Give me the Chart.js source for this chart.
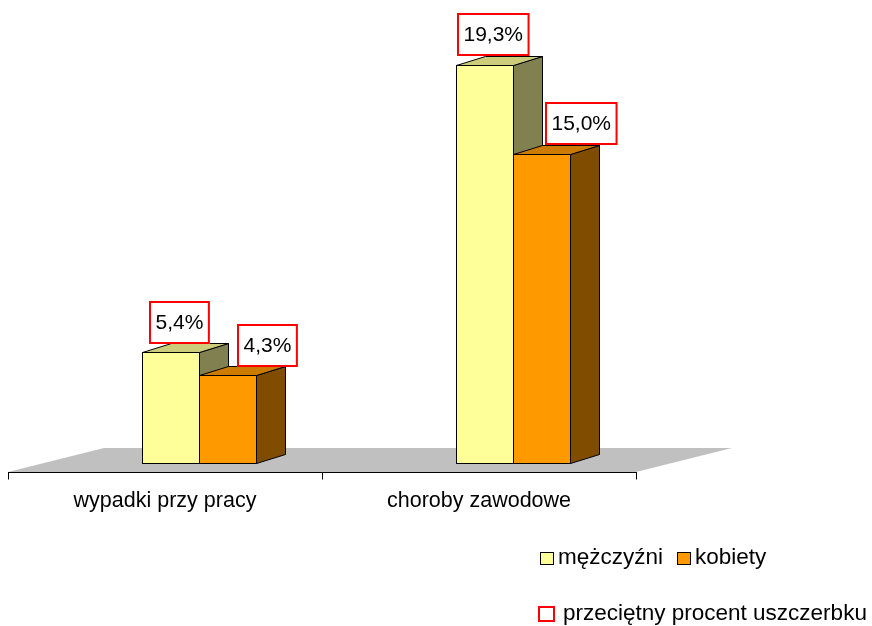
<!DOCTYPE html>
<html>
<head>
<meta charset="utf-8">
<script src="https://cdn.jsdelivr.net/npm/chart.js@4/dist/chart.umd.min.js"></script>
<style>
html,body{margin:0;padding:0;background:#fff;}
#wrap{width:872px;height:626px;position:relative;}
</style>
</head>
<body>
<div id="wrap"><canvas id="c" width="872" height="626"></canvas></div>
<script>
// ---- data ----
const categories = ['wypadki przy pracy', 'choroby zawodowe'];
const menValues = [5.4, 19.3];
const womenValues = [4.3, 15.0];
const seriesNames = ['mężczyźni', 'kobiety'];
const averageLabel = 'przeciętny procent uszczerbku';
const yMin = 0;
const yMax = 22;

// ---- styles ----
const FONT = '"Liberation Sans", Arial, sans-serif';
const frontColors = ['#FFFF99', '#FF9900'];
const sideColors = ['#808050', '#804C00'];
const topColors = ['#CCCC7A', '#CC7A00'];
const geo = { bx: 29, by: 9, fx: 96, fy: 24, ox: 34, oy: 8 };
const labelDx = [9, 39.5];
const labelGap = 8.5;

function fmt(v) { return v.toFixed(1).replace('.', ',') + '%'; }

const threeD = {
  id: 'threeD',
  beforeDatasetsDraw(chart) {
    const ctx = chart.ctx;
    const xs = chart.scales.x;
    const ca = chart.chartArea;
    const l = xs.getPixelForValue(-0.5) - geo.ox;
    const r = xs.getPixelForValue(categories.length - 0.5) - geo.ox;
    const fy = ca.bottom + geo.oy;
    ctx.save();
    ctx.fillStyle = '#C0C0C0';
    ctx.beginPath();
    ctx.moveTo(l, fy);
    ctx.lineTo(r, fy);
    ctx.lineTo(r + geo.fx, fy - geo.fy);
    ctx.lineTo(l + geo.fx, fy - geo.fy);
    ctx.closePath();
    ctx.fill();
    // axis line + ticks
    ctx.strokeStyle = '#000';
    ctx.lineWidth = 1;
    ctx.beginPath();
    const ay = Math.round(fy) + 0.5;
    ctx.moveTo(Math.round(l), ay);
    ctx.lineTo(Math.round(r) + 1, ay);
    for (let i = 0; i <= categories.length; i++) {
      const tx = Math.round(xs.getPixelForValue(i - 0.5) - geo.ox) + 0.5;
      ctx.moveTo(tx, ay);
      ctx.lineTo(tx, ay + 7);
    }
    ctx.stroke();
    ctx.restore();
  },
  afterDatasetsDraw(chart) {
    const ctx = chart.ctx;
    ctx.save();
    ctx.lineWidth = 1;
    ctx.strokeStyle = '#000';
    const n = categories.length;
    const boxes = [];
    for (let i = 0; i < n; i++) {
      for (let d = 0; d < chart.data.datasets.length; d++) {
        const el = chart.getDatasetMeta(d).data[i];
        const p = el.getProps(['x', 'y', 'base', 'width'], true);
        const L = Math.round(p.x - p.width / 2) + 0.5;
        const R = Math.round(p.x + p.width / 2) + 0.5;
        const T = Math.round(p.y) + 0.5;
        const B = Math.round(p.base) - 0.5;
        // front
        ctx.fillStyle = frontColors[d];
        ctx.fillRect(L, T, R - L, B - T);
        ctx.strokeRect(L, T, R - L, B - T);
        // side
        ctx.fillStyle = sideColors[d];
        ctx.beginPath();
        ctx.moveTo(R, T);
        ctx.lineTo(R + geo.bx, T - geo.by);
        ctx.lineTo(R + geo.bx, B - geo.by);
        ctx.lineTo(R, B);
        ctx.closePath();
        ctx.fill();
        ctx.stroke();
        // top
        ctx.fillStyle = topColors[d];
        ctx.beginPath();
        ctx.moveTo(L, T);
        ctx.lineTo(L + geo.bx, T - geo.by);
        ctx.lineTo(R + geo.bx, T - geo.by);
        ctx.lineTo(R, T);
        ctx.closePath();
        ctx.fill();
        ctx.stroke();
        boxes.push({ cx: p.x + labelDx[d], bottom: p.y - labelGap, text: fmt(chart.data.datasets[d].data[i]) });
      }
    }
    // data labels
    ctx.font = '21px ' + FONT;
    ctx.textAlign = 'center';
    ctx.textBaseline = 'middle';
    for (const b of boxes) {
      const w = ctx.measureText(b.text).width + 13;
      const h = 43;
      const x0 = Math.round(b.cx - w / 2);
      const y0 = Math.round(b.bottom - h);
      ctx.fillStyle = '#fff';
      ctx.fillRect(x0, y0, w, h);
      ctx.strokeStyle = '#FF0000';
      ctx.lineWidth = 2;
      ctx.strokeRect(x0 + 1, y0 + 1, w - 2, h - 2);
      ctx.fillStyle = '#000';
      ctx.fillText(b.text, x0 + w / 2, y0 + h / 2 + 1);
    }
    ctx.restore();
  },
  afterDraw(chart) {
    const ctx = chart.ctx;
    ctx.save();
    ctx.font = '22.5px ' + FONT;
    ctx.textAlign = 'left';
    ctx.textBaseline = 'alphabetic';
    ctx.lineWidth = 1;
    // row 1
    let x = 540;
    for (let d = 0; d < seriesNames.length; d++) {
      ctx.fillStyle = frontColors[d];
      ctx.fillRect(x + 0.5, 552.5, 13, 12);
      ctx.strokeStyle = '#000';
      ctx.strokeRect(x + 0.5, 552.5, 13, 12);
      ctx.fillStyle = '#000';
      ctx.fillText(seriesNames[d], x + 18, 564);
      x += 18 + ctx.measureText(seriesNames[d]).width + 14;
    }
    // row 2
    ctx.fillStyle = '#fff';
    ctx.fillRect(538, 606, 17, 15);
    ctx.strokeStyle = '#FF0000';
    ctx.lineWidth = 2;
    ctx.strokeRect(539, 607, 15, 14);
    ctx.fillStyle = '#000';
    ctx.fillText(averageLabel, 563, 620);
    ctx.restore();
  }
};

new Chart(document.getElementById('c'), {
  type: 'bar',
  data: {
    labels: categories,
    datasets: [
      { label: seriesNames[0], data: menValues, backgroundColor: frontColors[0], borderColor: '#000', borderWidth: 1, categoryPercentage: 0.363, barPercentage: 1 },
      { label: seriesNames[1], data: womenValues, backgroundColor: frontColors[1], borderColor: '#000', borderWidth: 1, categoryPercentage: 0.363, barPercentage: 1 }
    ]
  },
  options: {
    responsive: false,
    animation: false,
    devicePixelRatio: 1,
    layout: { padding: { left: 42, right: 202, top: 9, bottom: 0 } },
    scales: {
      x: {
        grid: { display: false, drawTicks: false },
        border: { display: false },
        ticks: { labelOffset: -34, padding: 24, color: '#000', font: { family: FONT, size: 21.5 }, maxRotation: 0, autoSkip: false },
        afterFit(s) { s.height = 162; }
      },
      y: { display: false, min: yMin, max: yMax }
    },
    plugins: { legend: { display: false }, tooltip: { enabled: false } }
  },
  plugins: [threeD]
});
</script>
</body>
</html>
